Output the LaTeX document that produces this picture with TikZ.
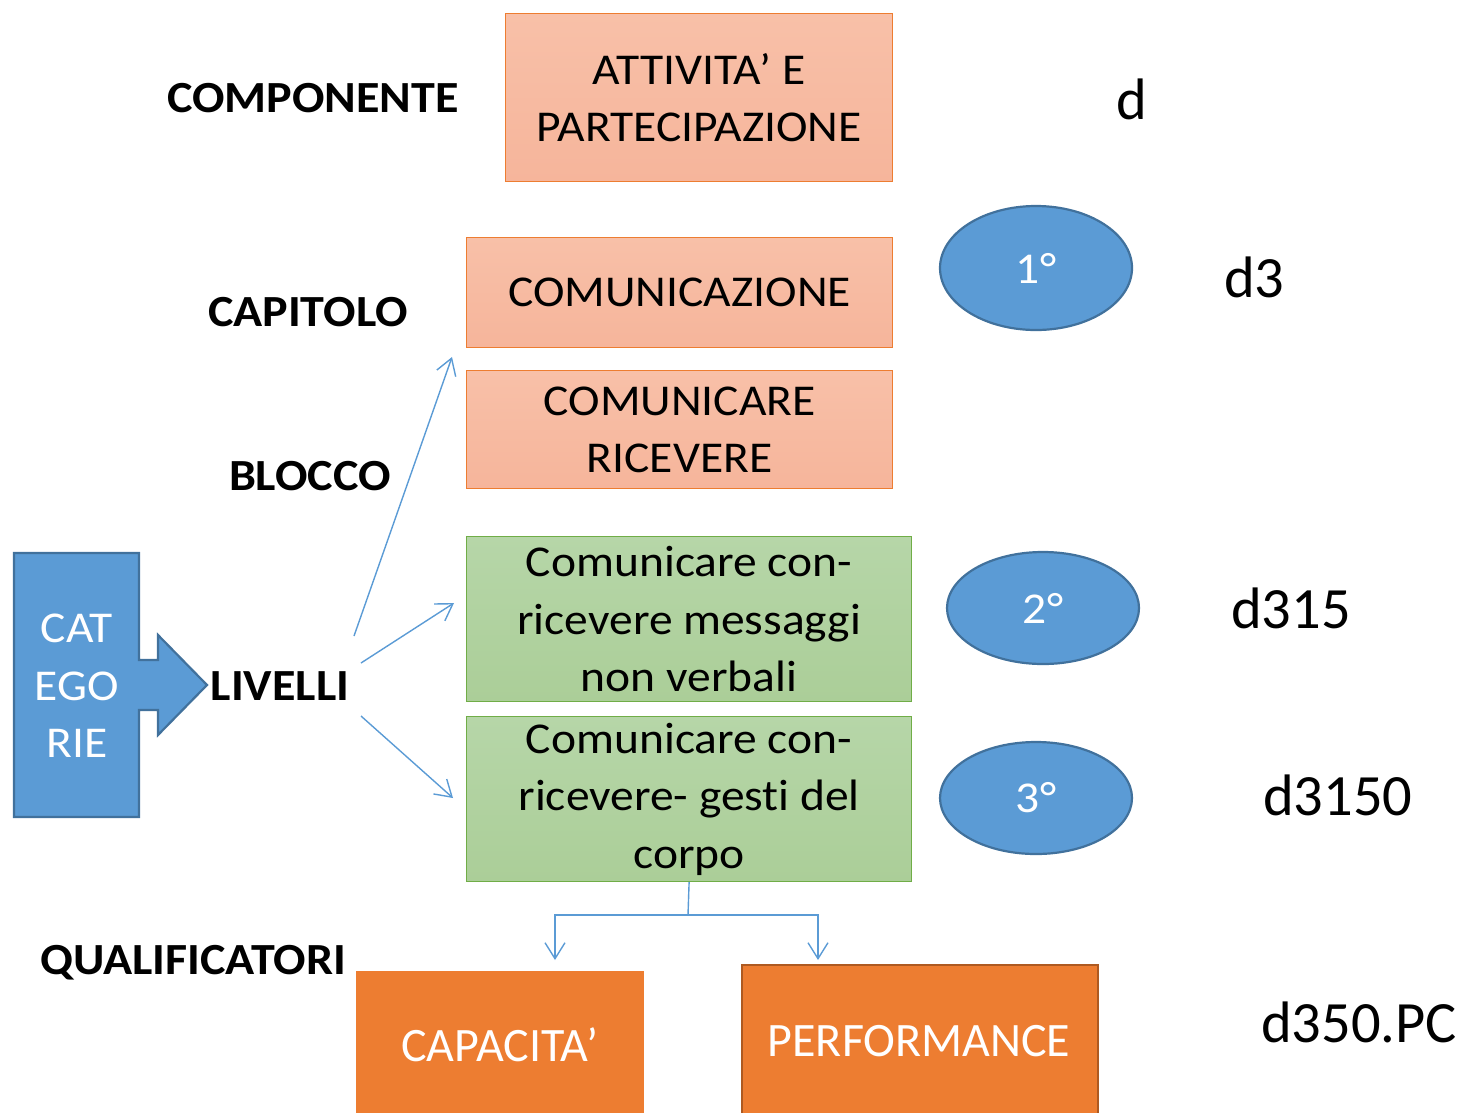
\documentclass[tikz,border=0pt]{standalone}
\usepackage{fontspec}
\setmainfont{Carlito}[FakeStretch=1.08,Ligatures=NoCommon]
\newfontfamily\plainfont{Carlito}[Ligatures=NoCommon]
\usetikzlibrary{arrows.meta,shapes.geometric}
\definecolor{salmon}{HTML}{F6B59B}
\definecolor{salmontop}{HTML}{F8C0A8}
\definecolor{leaf}{HTML}{ABCE98}
\definecolor{leaftop}{HTML}{B6D6A8}
\definecolor{accent}{HTML}{ED7D31}
\definecolor{darkaccent}{HTML}{AE5A21}
\definecolor{sky}{HTML}{5B9BD5}
\definecolor{darksky}{HTML}{41719C}
\definecolor{lime}{HTML}{70AD47}
\tikzset{
  lbl/.style={inner sep=0pt,font=\fontsize{44.5}{54}\selectfont\bfseries},
  code/.style={inner sep=0pt,anchor=base west,font=\plainfont\fontsize{58.5}{64}\selectfont},
  pinkbox/.style={draw=accent,line width=1.2pt,top color=salmontop,bottom color=salmon,
    anchor=north west,inner sep=0pt,align=center,font=\fontsize{44}{57}\selectfont},
  greenbox/.style={draw=lime,line width=1.2pt,top color=leaftop,bottom color=leaf,
    anchor=north west,inner sep=0pt,align=center,font=\fontsize{44}{57.5}\selectfont},
  qualbox/.style={fill=accent,anchor=north west,inner sep=0pt},
  qualtext/.style={text=white,inner sep=0pt,font=\plainfont\fontsize{48}{54}\selectfont},
  level/.style={ellipse,draw=darksky,line width=2.2pt,fill=sky,text=white,
    minimum width=192pt,font=\fontsize{44}{50}\selectfont},
  conn/.style={sky,line width=1.4pt,-{Straight Barb[length=16pt,width=20pt]}}
}
\begin{document}
\begin{tikzpicture}[x=1pt,y=-1pt]
\useasboundingbox (0,0) rectangle (1463,1112);

\node[lbl] (componente) at (313,98) {COMPONENTE};
\node[lbl] (capitolo) at (308,312) {CAPITOLO};
\node[lbl] (blocco) at (310,476) {BLOCCO};
\node[lbl] (livelli) at (280,686) {LIVELLI};
\node[lbl] (qualificatori) at (193,963) {QUALIFICATORI};

\node[pinkbox,minimum width=387pt,minimum height=168pt] (attivita) at (505,13) {ATTIVITA’ E\\PARTECIPAZIONE};
\node[pinkbox,minimum width=426pt,minimum height=110pt] (comunicazione) at (466,237) {COMUNICAZIONE};
\node[pinkbox,minimum width=426pt,minimum height=118pt] (ricevere) at (466,370) {COMUNICARE\\RICEVERE};
\node[greenbox,minimum width=445pt,minimum height=165pt] (nonverbali) at (466,536) {Comunicare con-\\ricevere messaggi\\non verbali};
\node[greenbox,minimum width=445pt,minimum height=165pt] (gesti) at (466,716) {Comunicare con-\\ricevere- gesti del\\corpo};

\node[level,minimum height=124pt] (primo) at (1036,268) {1°};
\node[level,minimum height=112pt] (secondo) at (1043,608) {2°};
\node[level,minimum height=112pt] (terzo) at (1036,798) {3°};

\node[code] (dcomp) at (1116,119) {d};
\node[code] (dcap) at (1224,297) {d3};
\node[code] (dsec) at (1231,628) {d315};
\node[code] (dter) at (1263,815) {d3150};
\node[code] (dqual) at (1261,1042) {d350.PC};

\draw[fill=sky,draw=darksky,line width=2.2pt] (14,553) -- (139,553) -- (139,660) -- (158,660) -- (158,635)
  -- (207,685) -- (158,735) -- (158,710) -- (139,710) -- (139,817) -- (14,817) -- cycle;
\node[text=white,align=center,inner sep=0pt,font=\fontsize{44}{57.5}\selectfont] (categorie) at (77,686) {CAT\\EGO\\RIE};

\coordinate (up) at (354,636);
\coordinate (mid) at (361,663);
\coordinate (down) at (361,716);
\coordinate (toblocco) at (452,357);
\coordinate (tonon) at (454,603);
\coordinate (togesti) at (453,798);
\draw[conn] (up) -- (toblocco);
\draw[conn] (mid) -- (tonon);
\draw[conn] (down) -- (togesti);

\node[qualbox,minimum width=288pt,minimum height=160pt] (capacita) at (356,971) {};
\node[qualtext] (capacitatxt) at (500,1045) {CAPACITA’};
\node[qualbox,draw=darkaccent,line width=2pt,minimum width=356pt,minimum height=170pt] (performance) at (741,964) {};
\node[qualtext] (performancetxt) at (919,1041) {PERFORMANCE};

\coordinate (fork) at (688,915);
\coordinate (tocap) at (555,960);
\coordinate (toperf) at (818,960);
\draw[sky,line width=1.4pt] (gesti.south) -- (fork);
\draw[conn] (fork) -| (tocap);
\draw[conn] (fork) -| (toperf);
\end{tikzpicture}
\end{document}
